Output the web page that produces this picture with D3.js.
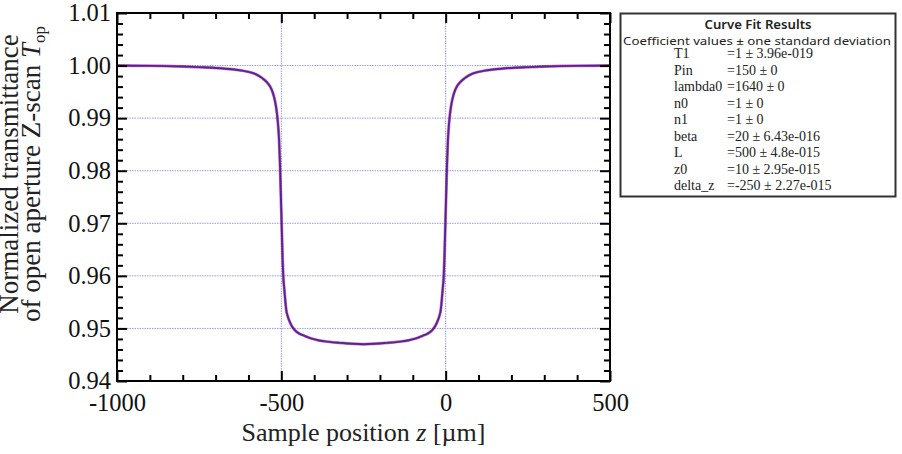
<!DOCTYPE html>
<html>
<head>
<meta charset="utf-8">
<script src="https://cdn.jsdelivr.net/npm/d3@7"></script>
<style>
  html, body { margin: 0; padding: 0; background: #fff; }
  svg { display: block; }
</style>
</head>
<body>
<svg id="chart" width="902" height="454"></svg>
<script>
// ---------------- data ----------------
const zPositions = [
  -1000, -950, -900, -850, -800, -750, -700, -650, -620, -600, -580, -565, -555, -545, -535,
  -528, -522, -517, -513, -510, -507, -504, -502, -500, -498, -496, -494, -491, -488, -485,
  -480, -474, -467, -458, -445, -430, -410, -385, -355, -320, -285, -250,
  -215, -180, -145, -115, -90, -70, -55, -42, -33, -26, -20, -15, -12, -9, -6, -4, -2, 0,
  2, 4, 7, 10, 13, 17, 22, 28, 35, 45, 55, 65, 80, 100, 120, 150, 200, 250, 300, 350, 400, 450, 500
];
const transmittance = [
  1.00000, 0.99998, 0.99995, 0.99990, 0.99982, 0.99970, 0.99955, 0.99930, 0.99905, 0.99880, 0.99840, 0.99790, 0.99745, 0.99690, 0.99610,
  0.99520, 0.99400, 0.99250, 0.99070, 0.98880, 0.98600, 0.98100, 0.97650, 0.97200, 0.96750, 0.96300, 0.95980, 0.95750, 0.95530, 0.95350,
  0.95220, 0.95120, 0.95030, 0.94960, 0.94900, 0.94860, 0.94810, 0.94770, 0.94745, 0.94725, 0.94708, 0.94700,
  0.94708, 0.94725, 0.94745, 0.94770, 0.94810, 0.94860, 0.94900, 0.94960, 0.95030, 0.95120, 0.95220, 0.95350, 0.95530, 0.95750, 0.95980, 0.96300, 0.96750, 0.97200,
  0.97650, 0.98100, 0.98600, 0.98880, 0.99070, 0.99250, 0.99400, 0.99520, 0.99610, 0.99690, 0.99745, 0.99790, 0.99840, 0.99880, 0.99905, 0.99930, 0.99955, 0.99970, 0.99982, 0.99990, 0.99995, 0.99998, 1.00000
];
const fitTransmittance = transmittance.slice();

const xMajorTicks = [-1000, -500, 0, 500];
const xTickLabels = ["-1000", "-500", "0", "500"];
const xMinorTicks = [-900, -800, -700, -600, -400, -300, -200, -100, 100, 200, 300, 400];
const yMajorTicks = [0.94, 0.95, 0.96, 0.97, 0.98, 0.99, 1.00, 1.01];
const yTickLabels = ["0.94", "0.95", "0.96", "0.97", "0.98", "0.99", "1.00", "1.01"];
const yMinorTicks = [];
for (let i = 0; i < 7; i++) for (let j = 1; j < 5; j++) yMinorTicks.push(+(0.94 + i * 0.01 + j * 0.002).toFixed(4));
const xGrid = [-500, 0];
const yGrid = [0.95, 0.96, 0.97, 0.98, 0.99, 1.00];

const legendTitle = "Curve Fit Results";
const legendSubtitle = "Coefficient values \u00b1 one standard deviation";
const coefNames = ["T1", "Pin", "lambda0", "n0", "n1", "beta", "L", "z0", "delta_z"];
const coefValues = ["=1 \u00b1 3.96e-019", "=150 \u00b1 0", "=1640 \u00b1 0", "=1 \u00b1 0", "=1 \u00b1 0",
  "=20 \u00b1 6.43e-016", "=500 \u00b1 4.8e-015", "=10 \u00b1 2.95e-015", "=-250 \u00b1 2.27e-015"];

// ---------------- layout ----------------
const svg = d3.select("#chart");
const L = 117, R = 610, T = 13, B = 381;
const x = d3.scaleLinear().domain([-1000, 500]).range([L, R]);
const y = d3.scaleLinear().domain([0.94, 1.01]).range([B, T]);
const serif = "'Liberation Serif', 'Times New Roman', serif";

// grid
const grid = svg.append("g").attr("stroke", "#9a9af5").attr("stroke-width", 1).attr("stroke-dasharray", "1.5,1");
grid.selectAll(".gx").data(xGrid).enter().append("line")
  .attr("x1", d => x(d)).attr("x2", d => x(d)).attr("y1", T).attr("y2", B);
grid.selectAll(".gy").data(yGrid).enter().append("line")
  .attr("x1", L).attr("x2", R).attr("y1", d => y(d)).attr("y2", d => y(d));

// curves
const pts = zPositions.map((z, i) => [z, transmittance[i]]);
const fitPts = zPositions.map((z, i) => [z, fitTransmittance[i]]);
const line = d3.line().x(d => x(d[0])).y(d => y(d[1])).curve(d3.curveMonotoneX);
svg.append("path").attr("d", line(fitPts)).attr("fill", "none")
  .attr("stroke", "#d0207a").attr("stroke-opacity", 0.6).attr("stroke-width", 3);
svg.append("path").attr("d", line(pts)).attr("fill", "none")
  .attr("stroke", "#2c1496").attr("stroke-opacity", 0.8).attr("stroke-width", 1.9);

// axes
function styleAxis(g) {
  g.select(".domain").remove();
  g.selectAll(".tick line").attr("stroke", "#000").attr("stroke-width", 2);
  g.selectAll("text").attr("font-family", serif).attr("font-size", 24.5).attr("fill", "#111");
}
const majorLen = 10, minorLen = 6;
svg.append("g").attr("transform", `translate(0,${B})`)
  .call(d3.axisBottom(x).tickValues(xMajorTicks).tickSize(-majorLen).tickPadding(13)
    .tickFormat((d, i) => xTickLabels[i]))
  .call(styleAxis);
svg.append("g").attr("transform", `translate(0,${B})`)
  .call(d3.axisBottom(x).tickValues(xMinorTicks).tickSize(-minorLen).tickFormat(""))
  .call(styleAxis);
svg.append("g").attr("transform", `translate(0,${T})`)
  .call(d3.axisTop(x).tickValues(xMajorTicks).tickSize(-majorLen).tickFormat(""))
  .call(styleAxis);
svg.append("g").attr("transform", `translate(0,${T})`)
  .call(d3.axisTop(x).tickValues(xMinorTicks).tickSize(-minorLen).tickFormat(""))
  .call(styleAxis);
svg.append("g").attr("transform", `translate(${L},0)`)
  .call(d3.axisLeft(y).tickValues(yMajorTicks).tickSize(-majorLen).tickPadding(6)
    .tickFormat((d, i) => yTickLabels[i]))
  .call(styleAxis);
svg.append("g").attr("transform", `translate(${L},0)`)
  .call(d3.axisLeft(y).tickValues(yMinorTicks).tickSize(-minorLen).tickFormat(""))
  .call(styleAxis);
svg.append("g").attr("transform", `translate(${R},0)`)
  .call(d3.axisRight(y).tickValues(yMajorTicks).tickSize(-majorLen).tickFormat(""))
  .call(styleAxis);
svg.append("g").attr("transform", `translate(${R},0)`)
  .call(d3.axisRight(y).tickValues(yMinorTicks).tickSize(-minorLen).tickFormat(""))
  .call(styleAxis);

// frame
svg.append("rect").attr("x", L).attr("y", T).attr("width", R - L).attr("height", B - T)
  .attr("fill", "none").attr("stroke", "#000").attr("stroke-width", 2);

// axis titles
const xt = svg.append("text").attr("x", (L + R) / 2).attr("y", 441).attr("text-anchor", "middle")
  .attr("font-family", serif).attr("font-size", 26).attr("fill", "#222");
xt.append("tspan").text("Sample position ");
xt.append("tspan").attr("font-style", "italic").text("z");
xt.append("tspan").text(" [\u00b5m]");

const yt = svg.append("g").attr("transform", "translate(0,174) rotate(-90)");
yt.append("text").attr("x", 0).attr("y", 18).attr("text-anchor", "middle")
  .attr("font-family", serif).attr("font-size", 27).attr("fill", "#222")
  .text("Normalized transmittance");
const yt2 = yt.append("text").attr("x", 0).attr("y", 39.5).attr("text-anchor", "middle")
  .attr("font-family", serif).attr("font-size", 27).attr("fill", "#222");
yt2.append("tspan").text("of open aperture Z-scan ");
yt2.append("tspan").attr("font-style", "italic").text("T");
yt2.append("tspan").attr("font-size", 17).attr("dy", 5).text("op");

// legend box
const lg = svg.append("g");
lg.append("rect").attr("x", 620.5).attr("y", 13.5).attr("width", 275).attr("height", 183)
  .attr("fill", "#fff").attr("stroke", "#333").attr("stroke-width", 2);
const sans = "'Noto Sans', 'DejaVu Sans', sans-serif";
lg.append("text").attr("x", 758).attr("y", 29).attr("text-anchor", "middle")
  .attr("font-family", sans).attr("font-size", 12.5).attr("font-weight", 600).attr("fill", "#222")
  .attr("textLength", 107).attr("lengthAdjust", "spacingAndGlyphs")
  .text(legendTitle);
lg.append("text").attr("x", 757).attr("y", 44.5).attr("text-anchor", "middle")
  .attr("font-family", sans).attr("font-size", 11.5).attr("fill", "#222")
  .attr("textLength", 268).attr("lengthAdjust", "spacingAndGlyphs")
  .text(legendSubtitle);
coefNames.forEach((name, i) => {
  const yy = 58 + i * 16.5;
  const nt = lg.append("text").attr("x", 674).attr("y", yy)
    .attr("font-family", serif).attr("font-size", 14).attr("fill", "#222").text(name);
  const w = nt.node().getComputedTextLength();
  lg.append("text").attr("x", Math.max(727, 674 + w + 0.5)).attr("y", yy)
    .attr("font-family", serif).attr("font-size", 14).attr("fill", "#222").text(coefValues[i]);
});
</script>
</body>
</html>
